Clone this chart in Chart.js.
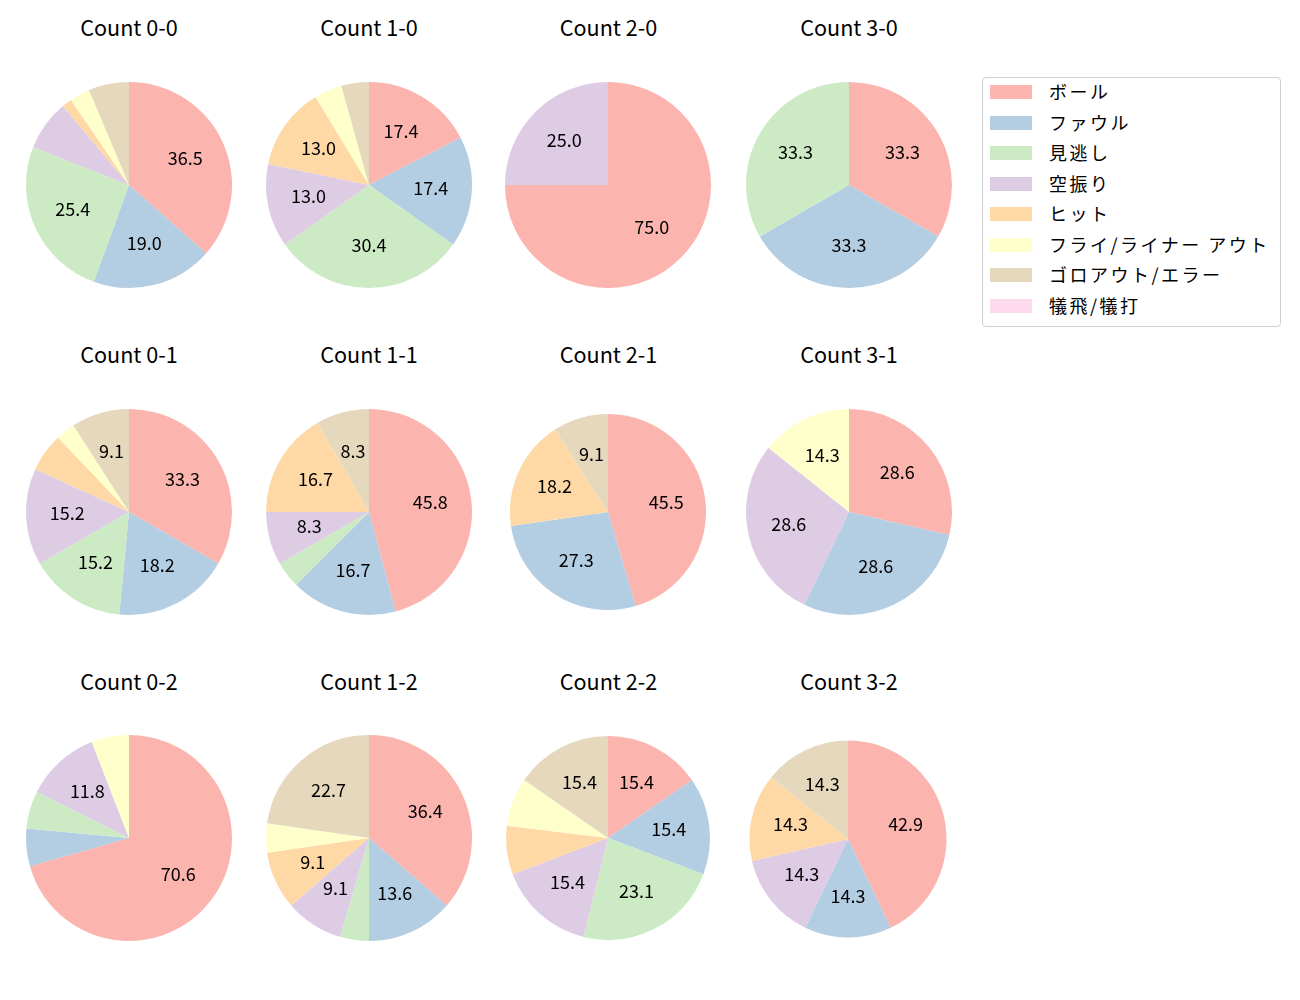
<!DOCTYPE html>
<html>
<head>
<meta charset="utf-8">
<script src="https://cdn.jsdelivr.net/npm/chart.js@4.4.0/dist/chart.umd.min.js"></script>
<style>
  body { margin: 0; background: #fff; font-family: "Noto Sans CJK JP", "Noto Sans", sans-serif; }
  #wrap { position: relative; width: 1300px; height: 1000px; }
  .title { position: absolute; width: 200px; text-align: center; font-size: 21.6px; color: #000; line-height: 1; }
  .pie { position: absolute; width: 230px; height: 230px; }
  #legend { position: absolute; left: 982px; top: 77px; width: 297px; height: 248px;
            border: 1px solid #d0d0d0; border-radius: 4px; }
  .lpatch { position: absolute; left: 7px; width: 42px; height: 14px; }
  .ltext { position: absolute; left: 66px; font-size: 18px; line-height: 1; white-space: nowrap;
           color: #000; letter-spacing: 2.5px; }
</style>
</head>
<body>
<div id="wrap"><div id="legend"></div></div>
<script>
const categories = ['ボール', 'ファウル', '見逃し', '空振り', 'ヒット', 'フライ/ライナー アウト', 'ゴロアウト/エラー', '犠飛/犠打'];
const colors = ['#fbb4ae', '#b3cde3', '#ccebc5', '#decbe4', '#fed9a6', '#ffffcc', '#e5d8bd', '#fddaec'];

// pitch counts per ball-strike count, in the category order above
const count00 = [23, 12, 16, 5, 1, 2, 4, 0];
const count10 = [4, 4, 7, 3, 3, 1, 1, 0];
const count20 = [3, 0, 0, 1, 0, 0, 0, 0];
const count30 = [1, 1, 1, 0, 0, 0, 0, 0];
const count01 = [11, 6, 5, 5, 2, 1, 3, 0];
const count11 = [11, 4, 1, 2, 4, 0, 2, 0];
const count21 = [5, 3, 0, 0, 2, 0, 1, 0];
const count31 = [2, 2, 0, 2, 0, 1, 0, 0];
const count02 = [12, 1, 1, 2, 0, 1, 0, 0];
const count12 = [8, 3, 1, 2, 2, 1, 5, 0];
const count22 = [2, 2, 3, 2, 1, 1, 2, 0];
const count32 = [3, 1, 0, 1, 1, 0, 1, 0];

const panelTitles = ['Count 0-0', 'Count 1-0', 'Count 2-0', 'Count 3-0',
                     'Count 0-1', 'Count 1-1', 'Count 2-1', 'Count 3-1',
                     'Count 0-2', 'Count 1-2', 'Count 2-2', 'Count 3-2'];
const panelData = [count00, count10, count20, count30,
                   count01, count11, count21, count31,
                   count02, count12, count22, count32];

// layout: pie centre and radius per panel
const colX = [128.5, 368.5, 608, 848.5];
const rowY = [185, 511.5, 838];
const titleY = [16, 343, 670];
const radii = [103, 103, 103, 103, 103, 103, 98, 103, 103, 103, 102, 98.5];
const centerFix = { 11: [847.5, 839] };

const pctLabels = {
  id: 'pctLabels',
  afterDatasetsDraw(chart) {
    const ctx = chart.ctx;
    const vals = chart.data.datasets[0].data;
    const total = vals.reduce((a, b) => a + b, 0);
    const meta = chart.getDatasetMeta(0);
    ctx.save();
    ctx.font = '18px "Noto Sans CJK JP", "Noto Sans", sans-serif';
    ctx.fillStyle = '#000';
    ctx.textAlign = 'center';
    ctx.textBaseline = 'middle';
    meta.data.forEach((arc, i) => {
      const p = vals[i] / total * 100;
      if (p < 8) return;
      const mid = (arc.startAngle + arc.endAngle) / 2;
      const r = arc.outerRadius * 0.6;
      ctx.fillText(p.toFixed(1), arc.x + Math.cos(mid) * r, arc.y + Math.sin(mid) * r - 1.5);
    });
    ctx.restore();
  }
};

const wrap = document.getElementById('wrap');
panelData.forEach((vals, k) => {
  const col = k % 4, row = Math.floor(k / 4);
  let cx = colX[col], cy = rowY[row];
  if (centerFix[k]) { cx = centerFix[k][0]; cy = centerFix[k][1]; }

  const t = document.createElement('div');
  t.className = 'title';
  t.textContent = panelTitles[k];
  t.style.left = (colX[col] + 0.5 - 100) + 'px';
  t.style.top = titleY[row] + 'px';
  wrap.appendChild(t);

  const box = document.createElement('div');
  box.className = 'pie';
  box.style.left = (cx - 115) + 'px';
  box.style.top = (cy - 115) + 'px';
  const cv = document.createElement('canvas');
  box.appendChild(cv);
  wrap.appendChild(box);

  new Chart(cv, {
    type: 'pie',
    data: {
      labels: categories,
      datasets: [{ data: vals, backgroundColor: colors, borderWidth: 0 }]
    },
    options: {
      responsive: true,
      maintainAspectRatio: false,
      animation: false,
      radius: radii[k],
      layout: { padding: 0 },
      plugins: { legend: { display: false }, tooltip: { enabled: false } }
    },
    plugins: [pctLabels]
  });
});

// legend
const legend = document.getElementById('legend');
categories.forEach((name, i) => {
  const y = 14 + i * 30.5;
  const p = document.createElement('div');
  p.className = 'lpatch';
  p.style.top = (y - 7) + 'px';
  p.style.background = colors[i];
  legend.appendChild(p);
  const tx = document.createElement('div');
  tx.className = 'ltext';
  tx.style.top = (y - 10) + 'px';
  tx.textContent = name;
  legend.appendChild(tx);
});
</script>
</body>
</html>
